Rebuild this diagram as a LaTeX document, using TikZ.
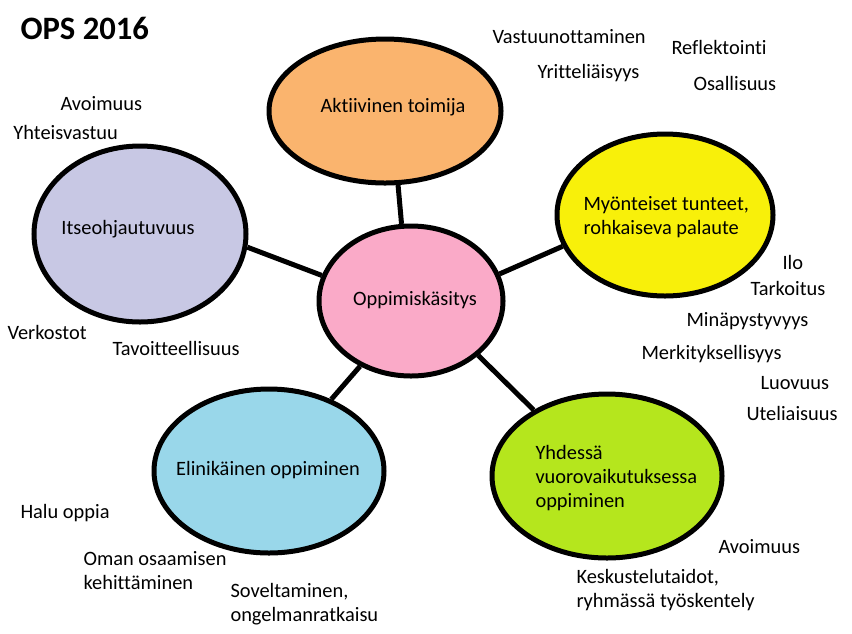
\documentclass[tikz,border=0pt]{standalone}
\usepackage{fontspec}
\setmainfont[Ligatures={NoCommon,NoContextual}]{Carlito}
\usetikzlibrary{shapes.geometric}

\definecolor{clrOrange}{RGB}{250,180,110}
\definecolor{clrLavender}{RGB}{200,200,228}
\definecolor{clrYellow}{RGB}{248,240,10}
\definecolor{clrPink}{RGB}{250,170,200}
\definecolor{clrBlue}{RGB}{153,215,234}
\definecolor{clrLime}{RGB}{181,230,29}

\tikzset{every picture/.style={line width=0.75pt}}
\tikzset{
  bubble/.style={ellipse, draw=black, line width=3.75pt, inner sep=0pt},
  link/.style={line width=3.75pt},
  word/.style={anchor=west, inner sep=0pt, align=left, font=\fontsize{15.3}{18}\selectfont}
}

\begin{document}
\begin{tikzpicture}[x=0.75pt,y=0.75pt,yscale=-1,xscale=1]
	%set diagram left start at 0, and has height of 633
	\path (0,0) rectangle (852,633);

	%Shape: Ellipse
	\node [bubble, fill=clrOrange, minimum width=174pt, minimum height=108pt] (akt) at (385,111) {};
	%Shape: Ellipse
	\node [bubble, fill=clrLavender, minimum width=159pt, minimum height=132pt] (itse) at (140,234) {};
	%Shape: Ellipse
	\node [bubble, fill=clrYellow, minimum width=162pt, minimum height=121.5pt] (myon) at (665,215) {};
	%Shape: Ellipse
	\node [bubble, fill=clrPink, minimum width=138pt, minimum height=112.5pt] (oppi) at (411,301) {};
	%Shape: Ellipse
	\node [bubble, fill=clrBlue, minimum width=172.5pt, minimum height=123pt] (elin) at (269,471) {};
	%Shape: Ellipse
	\node [bubble, fill=clrLime, minimum width=172.5pt, minimum height=123pt] (yhd) at (607,476) {};

	%Straight Lines
	\draw [link] (akt.-80) -- (oppi.97) ;
	%Straight Lines
	\draw [link] (itse.-7) -- (oppi.164) ;
	%Straight Lines
	\draw [link] (myon.197) -- (oppi.17) ;
	%Straight Lines
	\draw [link] (elin.49) -- (oppi.232) ;
	%Straight Lines
	\draw [link] (yhd.138) -- (oppi.-39) ;

	% Text Node
	\draw (20,28) node [word, font=\bfseries\fontsize{24.5}{28}\selectfont] (title) {OPS 2016};
	% Text Node
	\draw (393,107) node [word, anchor=center] (aktTxt) {Aktiivinen toimija};
	% Text Node
	\draw (128,229) node [word, anchor=center] (itseTxt) {Itseohjautuvuus};
	% Text Node
	\draw (583,217) node [word] (myonTxt) {Myönteiset tunteet,\\rohkaiseva palaute};
	% Text Node
	\draw (415,300) node [word, anchor=center] (oppiTxt) {Oppimiskäsitys};
	% Text Node
	\draw (268,470) node [word, anchor=center] (elinTxt) {Elinikäinen oppiminen};
	% Text Node
	\draw (535,478) node [word] (yhdTxt) {Yhdessä\\vuorovaikutuksessa\\oppiminen};

	% Text Node
	\draw (492,37) node [word] (vastuu) {Vastuunottaminen};
	% Text Node
	\draw (671,47) node [word] (refl) {Reflektointi};
	% Text Node
	\draw (537,73) node [word] (yritt) {Yritteliäisyys};
	% Text Node
	\draw (693,83) node [word] (osall) {Osallisuus};
	% Text Node
	\draw (60,104) node [word] (avoinA) {Avoimuus};
	% Text Node
	\draw (13,132) node [word] (yhteis) {Yhteisvastuu};
	% Text Node
	\draw (7,332) node [word] (verk) {Verkostot};
	% Text Node
	\draw (112,348) node [word] (tavoit) {Tavoitteellisuus};
	% Text Node
	\draw (782,262) node [word] (ilo) {Ilo};
	% Text Node
	\draw (750,288) node [word] (tark) {Tarkoitus};
	% Text Node
	\draw (686,321) node [word] (minap) {Minäpystyvyys};
	% Text Node
	\draw (641,354) node [word] (merk) {Merkityksellisyys};
	% Text Node
	\draw (760,383) node [word] (luov) {Luovuus};
	% Text Node
	\draw (746,413) node [word] (utel) {Uteliaisuus};
	% Text Node
	\draw (20,513) node [word] (halu) {Halu oppia};
	% Text Node
	\draw (83,571) node [word] (oman) {Oman osaamisen\\kehittäminen};
	% Text Node
	\draw (230,604) node [word] (sovel) {Soveltaminen,\\ongelmanratkaisu};
	% Text Node
	\draw (718,547) node [word] (avoinB) {Avoimuus};
	% Text Node
	\draw (576,590) node [word] (kesk) {Keskustelutaidot,\\ryhmässä työskentely};

\end{tikzpicture}
\end{document}
